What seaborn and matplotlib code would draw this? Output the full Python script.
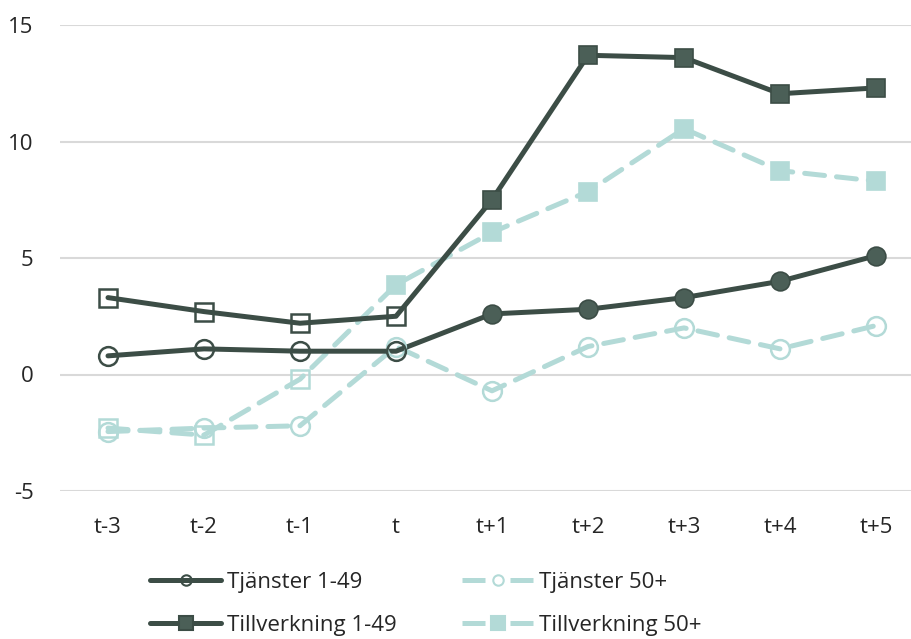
import pandas as pd
import seaborn as sns
from matplotlib import pyplot as plt
from matplotlib.lines import Line2D

# Perioder kring händelsen
perioder = ['t-3', 't-2', 't-1', 't', 't+1', 't+2', 't+3', 't+4', 't+5']

tjanster_1_49 = [0.8, 1.1, 1.0, 1.0, 2.6, 2.8, 3.3, 4.0, 5.1]
tjanster_50 = [-2.45, -2.3, -2.2, 1.2, -0.7, 1.2, 2.0, 1.1, 2.1]
tillverkning_1_49 = [3.3, 2.7, 2.2, 2.5, 7.5, 13.7, 13.6, 12.05, 12.3]
tillverkning_50 = [-2.3, -2.6, -0.2, 3.85, 6.1, 7.85, 10.55, 8.75, 8.3]

serier = ['Tjänster 1-49', 'Tjänster 50+', 'Tillverkning 1-49', 'Tillverkning 50+']
varden = [tjanster_1_49, tjanster_50, tillverkning_1_49, tillverkning_50]

mork = '#3c4d46'
mork_fyll = '#4b5f57'
ljus = '#b3dad7'
farger = {'Tjänster 1-49': mork, 'Tjänster 50+': ljus,
          'Tillverkning 1-49': mork, 'Tillverkning 50+': ljus}
streck = {'Tjänster 1-49': '', 'Tjänster 50+': (4, 2.4),
          'Tillverkning 1-49': '', 'Tillverkning 50+': (4, 2.4)}
markorer = {'Tjänster 1-49': 'o', 'Tjänster 50+': 'o',
            'Tillverkning 1-49': 's', 'Tillverkning 50+': 's'}
# antal öppna (ofyllda) markörer från början av varje serie
oppna = {'Tjänster 1-49': 4, 'Tjänster 50+': 9,
         'Tillverkning 1-49': 4, 'Tillverkning 50+': 3}

df = pd.concat([pd.DataFrame({'Period': perioder, 'Varde': v, 'Serie': s})
                for s, v in zip(serier, varden)], ignore_index=True)

sns.set_style('white')
plt.rcParams['font.family'] = ['Open Sans', 'DejaVu Sans']
plt.rcParams['axes.unicode_minus'] = False

fig = plt.figure(figsize=(9.12, 6.39), dpi=100)
ax = fig.add_axes([60 / 912, 148 / 639, 852 / 912, 466 / 639])

# ljusa serier först, mörka ovanpå
ordning = ['Tjänster 50+', 'Tillverkning 50+', 'Tjänster 1-49', 'Tillverkning 1-49']
for s in ordning:
    d = df[df['Serie'] == s]
    sns.lineplot(data=d, x='Period', y='Varde', color=farger[s], lw=3.6,
                 sort=False, ax=ax, legend=False)
    if streck[s]:
        ax.lines[-1].set_dashes(streck[s])
        ax.lines[-1].set_dash_capstyle('round')
    else:
        ax.lines[-1].set_solid_capstyle('round')
    ax.lines[-1].set_zorder(3)
    fyll = mork_fyll if farger[s] == mork else ljus
    ms = 13 if markorer[s] == 's' else 13.5
    n = oppna[s]
    ax.plot(d['Period'][:n], d['Varde'][:n], ls='none', marker=markorer[s], ms=ms,
            mfc='none', mec=farger[s], mew=1.8, zorder=4)
    if n < len(perioder):
        ax.plot(d['Period'][n:], d['Varde'][n:], ls='none', marker=markorer[s], ms=ms,
                mfc=fyll, mec=farger[s], mew=1.2, zorder=4)

ax.set_xlim(-0.5, 8.375)
ax.set_ylim(-5, 15)
ax.set_yticks([-5, 0, 5, 10, 15])
ax.yaxis.grid(True, color='#d9d9d9', lw=1.5)
ax.set_axisbelow(True)
for sp in ax.spines.values():
    sp.set_visible(False)
ax.set_xlabel('')
ax.set_ylabel('')
ax.tick_params(axis='y', length=0, pad=19, labelsize=16, labelcolor='#262626')
ax.tick_params(axis='x', length=0, pad=19, labelsize=16, labelcolor='#262626')

# legendordning: kolumnvis så att raderna blir Tjänster / Tillverkning
leg_ordning = ['Tjänster 1-49', 'Tillverkning 1-49', 'Tjänster 50+', 'Tillverkning 50+']
handtag = []
for s in leg_ordning:
    fyllt = markorer[s] == 's'
    h = Line2D([], [], color=farger[s], lw=3.6, marker=markorer[s],
               ms=10 if fyllt else 7.5,
               mfc=(mork_fyll if farger[s] == mork else ljus) if fyllt else 'none',
               mec=farger[s], mew=1.5)
    if streck[s]:
        h.set_dashes((4.6, 5.0))
    handtag.append(h)

fig.legend(handtag, leg_ordning, loc='upper left', bbox_to_anchor=(150 / 912, 1 - 572 / 639),
           ncol=2, frameon=False, fontsize=16, handlelength=3.2, handletextpad=0.25,
           columnspacing=2.95, labelspacing=0.97, borderpad=0, borderaxespad=0,
           labelcolor='#262626')

fig.savefig('out.png', dpi=100)
